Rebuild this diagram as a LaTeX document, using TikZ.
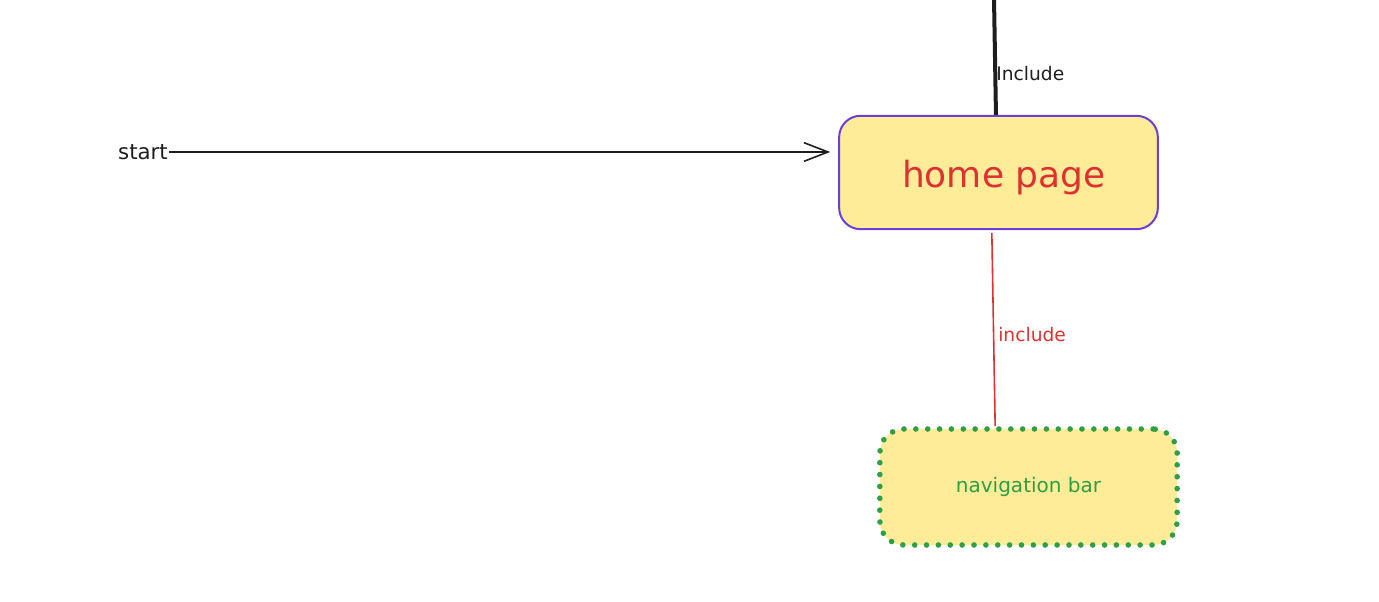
\documentclass[tikz,border=0pt]{standalone}
\usepackage{fontspec}
\setmainfont{DejaVu Sans}
\usetikzlibrary{arrows.meta}
\definecolor{boxfill}{HTML}{FFEC99}
\definecolor{purp}{HTML}{6741D9}
\definecolor{redc}{HTML}{E03131}
\definecolor{greenc}{HTML}{2F9E44}
\definecolor{inkc}{HTML}{1E1E1E}
\tikzset{
  homebox/.style={draw=purp, fill=boxfill, line width=1.5pt, rounded corners=16pt,
    minimum width=239pt, minimum height=85pt, inner sep=0pt,
    text=redc, font=\fontsize{27}{30}\selectfont},
  navbox/.style={draw=greenc, fill=boxfill, line width=4.2pt, line cap=round,
    dash pattern=on 0pt off 8.9pt, rounded corners=18pt,
    minimum width=223pt, minimum height=87pt, inner sep=0pt,
    text=greenc, font=\fontsize{15}{17}\selectfont},
  lbl/.style={inner sep=0pt, font=\fontsize{14}{16}\selectfont},
}
\begin{document}
\begin{tikzpicture}[x=0.75pt,y=-0.75pt]
\useasboundingbox (0,0) rectangle (1379,602);
\node[homebox] (home) at (998.5,172.5) {\raisebox{-4pt}[\height][\depth]{\hspace*{8pt}home page}};
\node[navbox] (nav) at (1028.5,487) {navigation bar};
\node[lbl, text=inkc, font=\fontsize{16}{18}\selectfont] (start) at (143,152) {start};
\coordinate (top) at (994,-2);
\draw[inkc, line width=3pt] (top) -- ([xshift=-1.9pt]home.north);
\node[lbl, text=inkc, anchor=west] (inc1) at (996,74) {Include};
\coordinate (tip) at ([xshift=-6pt]home.west |- start.east);
\draw[inkc, line width=1.2pt, -{Straight Barb[length=18pt,width=14pt,line width=1.2pt]}]
  ([xshift=1pt]start.east) -- (tip);
\draw[redc, line width=1.2pt] ([xshift=-5pt,yshift=-2pt]home.south) -- ([xshift=-25pt]nav.north);
\node[lbl, text=redc, anchor=west] (inc2) at (998,335) {include};
\end{tikzpicture}
\end{document}
